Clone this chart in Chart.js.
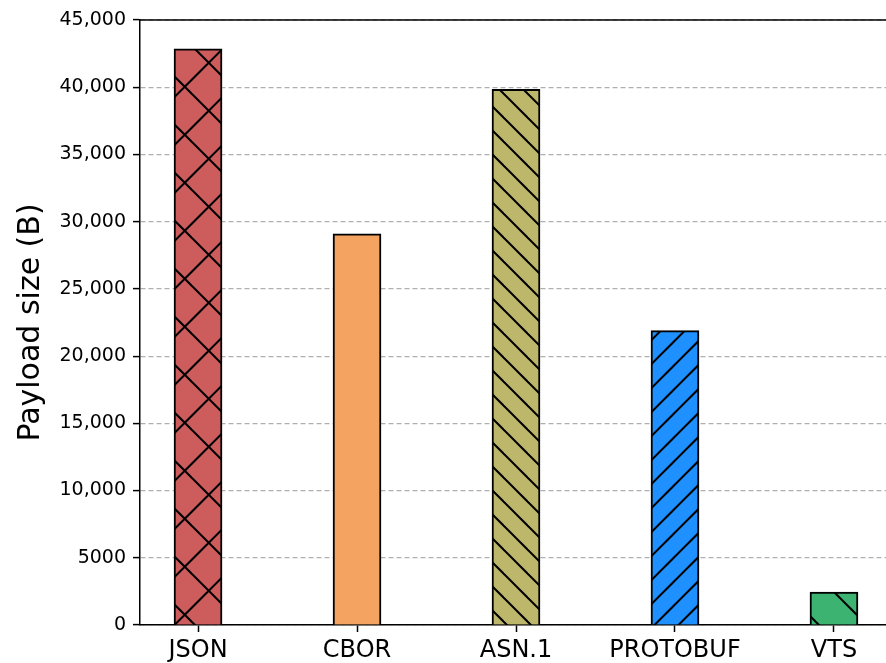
<!DOCTYPE html>
<html>
<head>
<meta charset="utf-8">
<script src="https://cdn.jsdelivr.net/npm/chart.js@4"></script>
<style>
  html, body { margin: 0; padding: 0; background: #fff; }
  #wrap { width: 886px; height: 663px; overflow: hidden; }
  canvas { display: block; }
</style>
</head>
<body>
<div id="wrap"><canvas id="payloadChart" width="900" height="663"></canvas></div>
<script>
const categories = ['JSON', 'CBOR', 'ASN.1', 'PROTOBUF', 'VTS'];
const payloadSizes = [42850, 29100, 39850, 21900, 2450];
const barColors = ['#cd5c5c', '#f4a460', '#bdb76b', '#1e90ff', '#3cb371'];
const barHatches = ['x', '', '\\\\', '//', '\\'];
const yTicks = [0, 5000, 10000, 15000, 20000, 25000, 30000, 35000, 40000, 45000];

// hatch pattern anchored to the canvas, like matplotlib
function hatchFill(color, hatch) {
    if (!hatch) return color;
    const size = (hatch === '//' || hatch === '\\\\') ? 24 : 48;
    const c = document.createElement('canvas');
    c.width = c.height = size;
    const g = c.getContext('2d');
    g.fillStyle = color;
    g.fillRect(0, 0, size, size);
    g.strokeStyle = '#000';
    g.lineWidth = 2;
    const offBack = 46 % size;
    const offFwd = 31.5 % size;
    for (let k = -2; k <= 2; k++) {
        if (hatch.includes('\\') || hatch === 'x') {
            g.beginPath();
            g.moveTo(-2, -2 + offBack + k * size);
            g.lineTo(size + 2, size + 2 + offBack + k * size);
            g.stroke();
        }
        if (hatch.includes('/') || hatch === 'x') {
            g.beginPath();
            g.moveTo(-2, offFwd + k * size + 2);
            g.lineTo(size + 2, offFwd + k * size - size - 2);
            g.stroke();
        }
    }
    return g.createPattern(c, 'repeat');
}

const topSpine = {
    id: 'topSpine',
    afterDraw(chart) {
        const {ctx, chartArea} = chart;
        ctx.save();
        ctx.strokeStyle = '#000';
        ctx.lineWidth = 1.5;
        ctx.beginPath();
        ctx.moveTo(chartArea.left, chartArea.top);
        ctx.lineTo(chart.width, chartArea.top);
        ctx.stroke();
        ctx.restore();
    }
};

const ctx = document.getElementById('payloadChart');
new Chart(ctx, {
    type: 'bar',
    data: {
        datasets: [{
            data: payloadSizes.map((v, i) => ({x: i, y: v})),
            backgroundColor: categories.map((c, i) => hatchFill(barColors[i], barHatches[i])),
            borderColor: '#000',
            borderWidth: 2,
            barThickness: 48
        }]
    },
    plugins: [topSpine],
    options: {
        responsive: false,
        animation: false,
        layout: { padding: { left: 0, top: 20, right: 8, bottom: 0 } },
        plugins: {
            legend: { display: false },
            tooltip: { enabled: false }
        },
        scales: {
            x: {
                type: 'linear',
                min: -0.365,
                max: 4.365,
                offset: false,
                afterBuildTicks: s => { s.ticks = categories.map((c, i) => ({value: i})); },
                afterFit: s => { s.height = 38; },
                grid: {
                    offset: false,
                    drawOnChartArea: false,
                    drawTicks: true,
                    tickLength: 7,
                    tickColor: '#000',
                    tickWidth: 1.5
                },
                border: { display: true, color: '#000', width: 1.5 },
                ticks: {
                    color: '#000',
                    padding: 4,
                    maxRotation: 0,
                    autoSkip: false,
                    font: { family: 'DejaVu Sans', size: 24 },
                    callback: v => categories[v]
                }
            },
            y: {
                min: 0,
                max: 45000,
                afterBuildTicks: s => { s.ticks = yTicks.map(v => ({value: v})); },
                afterFit: s => { s.width = 140; },
                grid: {
                    color: '#b0b0b0',
                    lineWidth: 1.2,
                    drawTicks: true,
                    tickLength: 7,
                    tickColor: '#000',
                    tickWidth: 1.5
                },
                border: { display: true, color: '#000', width: 1.5, dash: [5, 3] },
                ticks: {
                    color: '#000',
                    padding: 7,
                    font: { family: 'DejaVu Sans', size: 19 },
                    callback: v => v >= 10000 ? v.toLocaleString('en-US') : String(v)
                },
                title: {
                    display: true,
                    text: 'Payload size (B)',
                    color: '#000',
                    padding: { top: 13, bottom: 0 },
                    font: { family: 'DejaVu Sans', size: 30 }
                }
            }
        }
    }
});
</script>
</body>
</html>
